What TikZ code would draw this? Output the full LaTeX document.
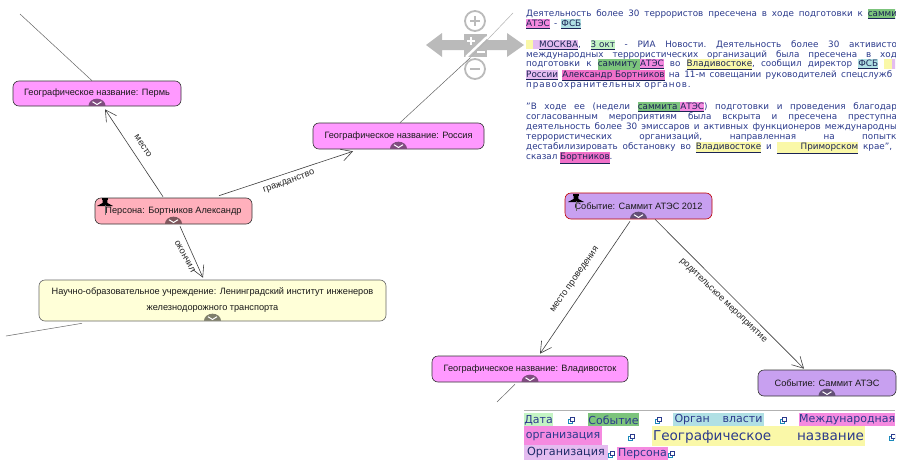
\documentclass[tikz,border=0pt]{standalone}
\usepackage{fontspec}
\setmainfont{DejaVu Sans}
\newfontfamily\gfont{Liberation Sans}
\usetikzlibrary{arrows.meta,calc}
\definecolor{tcol}{HTML}{2B3A8C}
\definecolor{hgreen}{HTML}{7CC47C}
\definecolor{hpale}{HTML}{C4F4C4}
\definecolor{hpink}{HTML}{F58AE0}
\definecolor{hblue}{HTML}{B0E0E4}
\definecolor{hlav}{HTML}{E4BCF0}
\definecolor{hyel}{HTML}{FAF8A8}
\definecolor{hmag}{HTML}{F070C8}
\definecolor{ctl}{HTML}{BABABA}
\definecolor{geof}{HTML}{FF99FF}
\definecolor{perf}{HTML}{FFB0BC}
\definecolor{nauf}{HTML}{FFFFD8}
\definecolor{evf}{HTML}{C8A0F0}
\newcommand\hlt[2]{{\setlength\fboxsep{0pt}\colorbox{#1}{\rule[-2pt]{0pt}{9.6pt}\color{tcol!60!black}#2}}}
\newcommand\ul[1]{\underline{#1}}
\tikzset{x=1pt,y=-1pt,
  gnode/.style={draw=black!80,line width=.6pt,rounded corners=6pt,anchor=center,inner sep=0pt,font=\gfont\fontsize{9.2}{16}\selectfont,align=center,text=black!90},
  elabel/.style={font=\gfont\fontsize{9.2}{10}\selectfont,text=black!85,inner sep=0pt},
  edgeline/.style={draw=black!75,line width=.6pt,-{Straight Barb[length=11pt,width=12pt,line width=.6pt]}},
  freeline/.style={draw=black!60,line width=.5pt},
  fadeline/.style={draw=black!30,line width=.5pt},
  txt/.style={anchor=west,inner sep=0pt,text=tcol,font=\fontsize{8.8}{10}\selectfont\frenchspacing},
  leg/.style={anchor=center,inner sep=0pt,text=tcol,font=\fontsize{11}{13}\selectfont},
  ctlshape/.style={fill=ctl,draw=none},
}
\newcommand\txtline[4]{\node[txt] (#1) at (526,#2) {\makebox[#3pt][s]{#4}};}
\newcommand\txtplain[3]{\node[txt] (#1) at (526,#2) {#3};}
\newcommand\badge[1]{%
  \fill[black,opacity=.5] ($(#1.south)+(-8.5,-.6)$) arc[start angle=180,end angle=0,x radius=8.5pt,y radius=7pt] -- cycle;
  \draw[white,line width=1pt] ($(#1.south)+(-4.5,-4.6)$) -- ($(#1.south)+(0,-1.8)$) -- ($(#1.south)+(4.5,-4.6)$);
}
\newcommand\pin[2]{%
  \fill[black] ($(#1)+(-3,-7)$) rectangle ($(#1)+(3,-5.5)$);
  \fill[black] ($(#1)+(-2.2,-6)$) -- ($(#1)+(2.2,-6)$) -- ($(#1)+(2.5,-2)$) -- ($(#1)+(8,1)$) -- ($(#1)+(-8,1)$) -- ($(#1)+(-2.5,-2)$) -- cycle;
  \draw[#2,line width=.7pt] ($(#1)+(0,0)$) -- ($(#1)+(0,10)$);
}
\newcommand\licon[1]{%
  \draw[tcol!60!cyan,line width=.6pt,fill=white] ($(#1)+(-3,-1)$) rectangle ($(#1)+(1,3)$);
  \draw[tcol,line width=.7pt,fill=white] ($(#1)+(-1,-3)$) rectangle ($(#1)+(3,1)$);
}
\begin{document}
\begin{tikzpicture}
\useasboundingbox (0,0) rectangle (904,463);
\fill[white] (0,0) rectangle (904,463);

% zoom/pan control
\draw[ctl,line width=1.8pt,fill=white] (475,21) circle[radius=10];
\draw[ctl,line width=1.4pt] (470,21) -- (480,21) (475,16) -- (475,26);
\draw[ctl,line width=1.8pt,fill=white] (475,69) circle[radius=10];
\draw[ctl,line width=1.4pt] (470,69) -- (480,69);
\fill[ctlshape] (426,45) -- (442,33) -- (442,40) -- (464,40) -- (464,50) -- (442,50) -- (442,57) -- cycle;
\fill[ctlshape] (524,45) -- (507,33) -- (507,40) -- (487,40) -- (487,50) -- (507,50) -- (507,57) -- cycle;
\fill[ctlshape] (464,34) rectangle (487,57);
\draw[white,line width=1.2pt] (467,41) -- (475,41) (471,37) -- (471,45) (477,52) -- (485,52);
\draw[white,line width=2.4pt] (466,57) -- (487,37);

% graph nodes
\node[gnode,fill=geof,minimum width=168pt,minimum height=25pt] (perm) at (97,93.5) {Географическое название: Пермь};
\node[gnode,fill=geof,minimum width=171pt,minimum height=26pt] (rus) at (398.5,136) {Географическое название: Россия};
\node[gnode,fill=perf,minimum width=157pt,minimum height=26pt] (bort) at (173.5,211) {Персона: Бортников Александр};
\node[gnode,fill=nauf,draw=black!60,minimum width=347pt,minimum height=41pt] (nii) at (212.5,300.5) {\raisebox{2pt}{\parbox{340pt}{\centering Научно-образовательное учреждение: Ленинградский институт инженеров\\железнодорожного транспорта}}};
\node[gnode,fill=evf,draw=red!75!black,minimum width=147pt,minimum height=26pt] (sum) at (638.5,206) {Событие: Саммит АТЭС 2012};
\node[gnode,fill=geof,minimum width=196pt,minimum height=26pt] (vlad) at (530,369) {Географическое название: Владивосток};
\node[gnode,fill=evf,minimum width=138pt,minimum height=26pt] (ates) at (827,383) {Событие: Саммит АТЭС};
\foreach \n in {perm,rus,bort,nii,sum,vlad,ates}{\badge{\n}}
\pin{105,205}{black!60}
\pin{576,201}{black!60}

% free lines
\coordinate (f1) at (20,14);
\coordinate (f2m) at (470,58);
\coordinate (f2) at (513,13);
\coordinate (f3) at (6,336);
\coordinate (f4) at (497,402);
\draw[freeline] ($(perm.north)+(-5,0)$) -- (f1);
\draw[freeline] ($(rus.north)+(1.5,0)$) -- (f2m);
\draw[fadeline] (f2m) -- (f2);
\draw[freeline] ($(nii.south)+(-130.5,2)$) -- (f3);
\draw[freeline] ($(vlad.south)+(-15,2)$) -- (f4);

% connectors
\draw[edgeline] ($(bort.north)+(-10.5,-1)$) -- ($(perm.south)+(8,3)$);
\draw[edgeline] ($(bort.north)+(45.5,-2)$) -- ($(rus.south)+(-45.5,2)$);
\draw[edgeline] ($(bort.south)+(6.5,2)$) -- ($(nii.north)+(-9.5,-2)$);
\draw[edgeline] ($(sum.south)+(-8.5,2)$) -- ($(vlad.north)+(10,-2)$);
\draw[edgeline] ($(sum.south)+(16.5,0)$) -- ($(ates.north)+(-23,-1)$);
\node[elabel,rotate=-57] (l1) at (143,146) {место};
\node[elabel,rotate=20] (l2) at (289,182) {гражданство};
\node[elabel,rotate=-61] (l3) at (185,256.5) {окончил};
\node[elabel,rotate=55] (l4) at (575,280) {место проведения};
\node[elabel,rotate=-44] (l5) at (723,301) {родительское мероприятие};

% text panel
\begin{scope}
\clip (520,0) rectangle (895,175);
\txtline{t1}{13.5}{376}{Деятельность более 30 террористов пресечена в ходе подготовки к \hlt{hgreen}{\ul{саммит}}}
\txtline{t2}{24}{55}{\hlt{hpink}{\ul{АТЭС}} - \hlt{hblue}{\ul{ФСБ}}}
\txtline{t3}{44.5}{376}{\hlt{hyel}{\hspace{7pt}}\hlt{hlav}{\hspace{6pt}\ul{МОСКВА}}, \hlt{hpale}{\ul{3 окт}} - РИА Новости. Деятельность более 30 активистов}
\txtline{t4}{55}{376}{международных террористических организаций была пресечена в ходе}
\txtline{t5}{65}{376}{подготовки к \hlt{hgreen}{\ul{саммиту }}\hlt{hpink}{\ul{АТЭС}} во \hlt{hyel}{\ul{Владивостоке}}, сообщил директор \hlt{hblue}{\ul{ФСБ}} \hlt{hyel}{\hspace{8pt}}\hlt{hlav}{\hspace{10pt}}}
\txtline{t6}{75.5}{376}{\hlt{hlav}{\ul{России}} \hlt{hmag}{\ul{Александр Бортников}} на 11-м совещании руководителей спецслужб и}
\txtplain{t7}{85.5}{\addfontfeature{LetterSpace=10}правоохранительных органов.}
\txtline{t8}{106.5}{376}{"В ходе ее (недели \hlt{hgreen}{\ul{саммита }}\hlt{hpink}{\ul{АТЭС}}) подготовки и проведения благодаря}
\txtline{t9}{117}{376}{согласованным мероприятиям была вскрыта и пресечена преступная}
\txtline{t10}{127}{376}{деятельность более 30 эмиссаров и активных функционеров международных}
\txtline{t11}{137.5}{376}{террористических организаций, направленная на попытки}
\txtline{t12}{148}{366}{дестабилизировать обстановку во \hlt{hyel}{\ul{Владивостоке}} и \hlt{hyel}{\ul{\hspace{24pt}Приморском}} крае",}
\txtplain{t13}{158}{сказал \hlt{hmag}{\ul{Бортников}}.}
\end{scope}

% legend
\draw[black!30,line width=1pt] (524,410) -- (895,410);
\fill[hpale] (524,413) rectangle (553,426);
\fill[hgreen] (588,413) rectangle (639,426);
\fill[hblue] (673,413) rectangle (764,426);
\fill[hpink] (799,413) rectangle (895,426);
\fill[hpink] (524,426) rectangle (602,445);
\fill[hyel] (652,426) rectangle (865,446);
\fill[hlav] (524,445) rectangle (608,460);
\fill[hpink] (617,447) rectangle (668,460);
\node[leg] (a1) at (538.5,420) {Дата};
\node[leg] (a2) at (613.5,420) {Событие};
\node[leg] (a3) at (718.5,420) {\makebox[88pt][s]{Орган власти}};
\begin{scope}
\clip (790,410) rectangle (895,430);
\node[leg,anchor=west] (a4) at (799,420) {Международная};
\end{scope}
\node[leg] (a5) at (563,437) {организация};
\node[leg,font=\fontsize{13.6}{16}\selectfont] (a6) at (758.5,436.5) {\makebox[211pt][s]{Географическое название}};
\node[leg,font=\fontsize{11.2}{13}\selectfont,text=tcol!75!black] (a7) at (566,453) {Организация};
\node[leg] (a8) at (642.5,453.5) {Персона};
\licon{571,420}\licon{658,420}\licon{783,420}\licon{631,437}
\begin{scope}\clip (880,425) rectangle (895,450);\licon{892,437}\end{scope}
\licon{611,454}\licon{671,454}
\end{tikzpicture}
\end{document}
